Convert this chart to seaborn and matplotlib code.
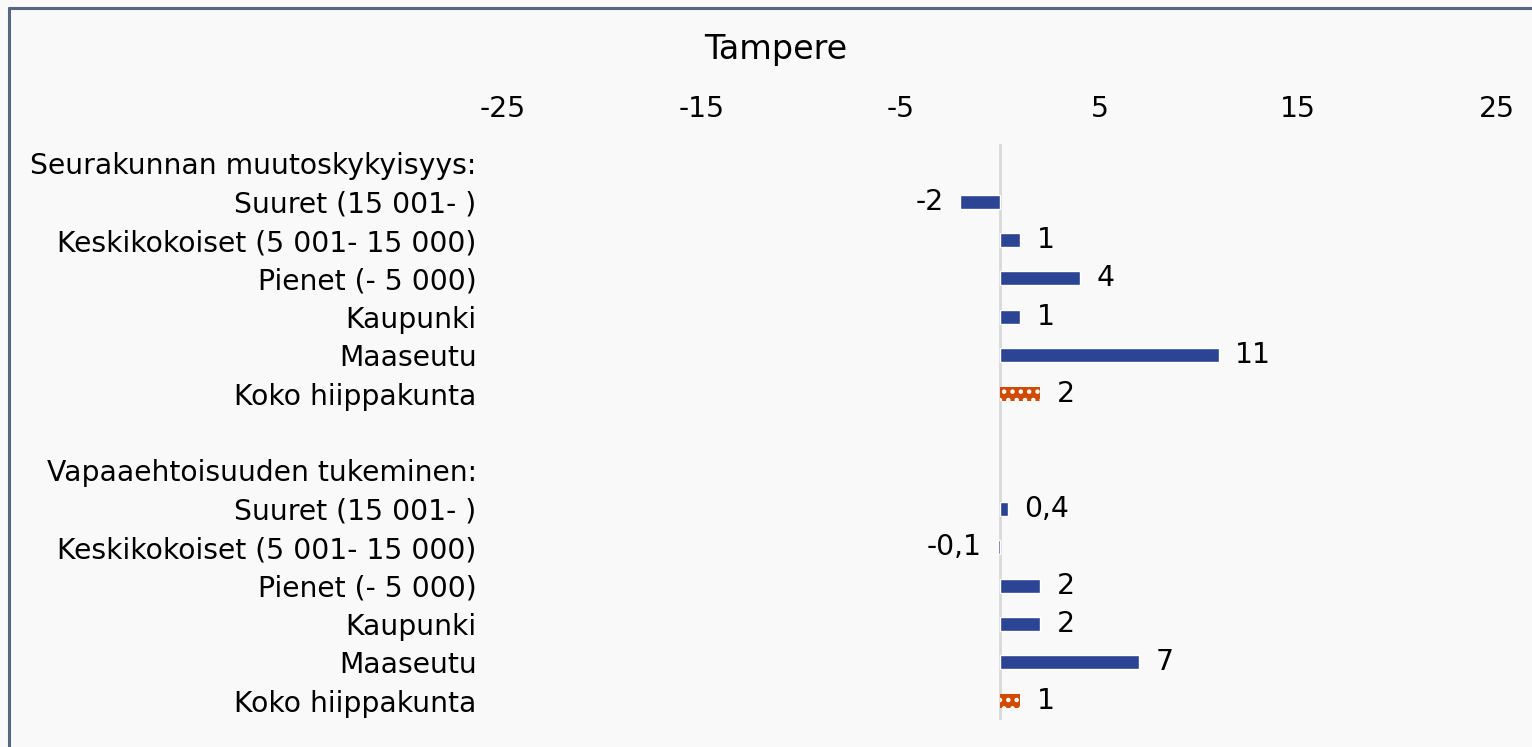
import matplotlib
matplotlib.use("Agg")
import matplotlib.pyplot as plt
from matplotlib.lines import Line2D
import pandas as pd
import seaborn as sns

# Categories and values
title = "Tampere"
group_titles = ["Seurakunnan muutoskykyisyys:", "Vapaaehtoisuuden tukeminen:"]
row_labels = [
    "Suuret (15 001- )",
    "Keskikokoiset (5 001- 15 000)",
    "Pienet (- 5 000)",
    "Kaupunki",
    "Maaseutu",
    "Koko hiippakunta",
]
muutoskykyisyys = [-2, 1, 4, 1, 11, 2]
vapaaehtoisuus = [0.4, -0.1, 2, 2, 7, 1]
x_ticks = [-25, -15, -5, 5, 15, 25]

BLUE = "#2B4494"
ORANGE = "#D04A02"
BG = "#F9F9F9"
FS = 20.3

# Build the long table: one header row per group, a blank row between groups
records = []
order = []
tick_text = []
for gi, (gtitle, vals) in enumerate(zip(group_titles, [muutoskykyisyys, vapaaehtoisuus])):
    if gi > 0:
        key = f"blank{gi}"
        order.append(key)
        tick_text.append("")
    key = f"g{gi}"
    order.append(key)
    tick_text.append(gtitle)
    for ri, (lab, v) in enumerate(zip(row_labels, vals)):
        key = f"g{gi}r{ri}"
        order.append(key)
        tick_text.append(lab)
        kind = "hiippakunta" if lab == "Koko hiippakunta" else "seurakunta"
        records.append({"key": key, "value": v, "kind": kind})
df = pd.DataFrame(records)

sns.set_theme(style="white")
plt.rcParams["font.family"] = ["DejaVu Sans"]
plt.rcParams["hatch.linewidth"] = 2.0

W, H = 1532, 747
fig = plt.figure(figsize=(W / 100, H / 100), dpi=100, facecolor=BG)
ax = fig.add_axes([503 / W, 1 - 720 / H, (1497 - 503) / W, (720 - 144) / H])
ax.set_facecolor(BG)

sns.barplot(
    data=df, x="value", y="key", order=order,
    hue="kind", hue_order=["seurakunta", "hiippakunta"],
    palette={"seurakunta": BLUE, "hiippakunta": ORANGE},
    dodge=False, width=0.36, legend=False, ax=ax, saturation=1,
)

# Dotted fill for the diocese totals
for bar in ax.containers[1]:
    bar.set_hatch("..")
    bar.set_edgecolor("white")
    bar.set_linewidth(0)

def fi_fmt(v):
    return f"{v:g}".replace(".", ",")

for cont in ax.containers:
    ax.bar_label(cont, labels=[fi_fmt(round(b.get_width(), 1)) for b in cont],
                 padding=12, fontsize=FS, color="black")

ax.axvline(0, color="#D9D9D9", lw=2, zorder=0)

ax.set_xlim(-25, 25)
ax.set_ylim(len(order) - 0.5, -0.5)
ax.xaxis.tick_top()
ax.set_xticks(x_ticks)
ax.set_xticklabels([str(t) for t in x_ticks])
ax.set_yticks(range(len(order)))
ax.set_yticklabels(tick_text)
ax.tick_params(axis="both", length=0, labelsize=FS, colors="black")
ax.tick_params(axis="y", pad=19)
ax.tick_params(axis="x", pad=15)
ax.set_xlabel("")
ax.set_ylabel("")
ax.grid(False)
for s in ax.spines.values():
    s.set_visible(False)

fig.text(776 / W, 1 - 50 / H, title, ha="center", va="center", fontsize=24, color="black")

# Outer frame (top and left edges)
fig.add_artist(Line2D([9 / W, 1.0], [1 - 8 / H, 1 - 8 / H], color="#56677F", lw=2.2))
fig.add_artist(Line2D([9 / W, 9 / W], [1 - 8 / H, 0.0], color="#56677F", lw=2.2))

fig.savefig("out.png", dpi=100, facecolor=BG)
